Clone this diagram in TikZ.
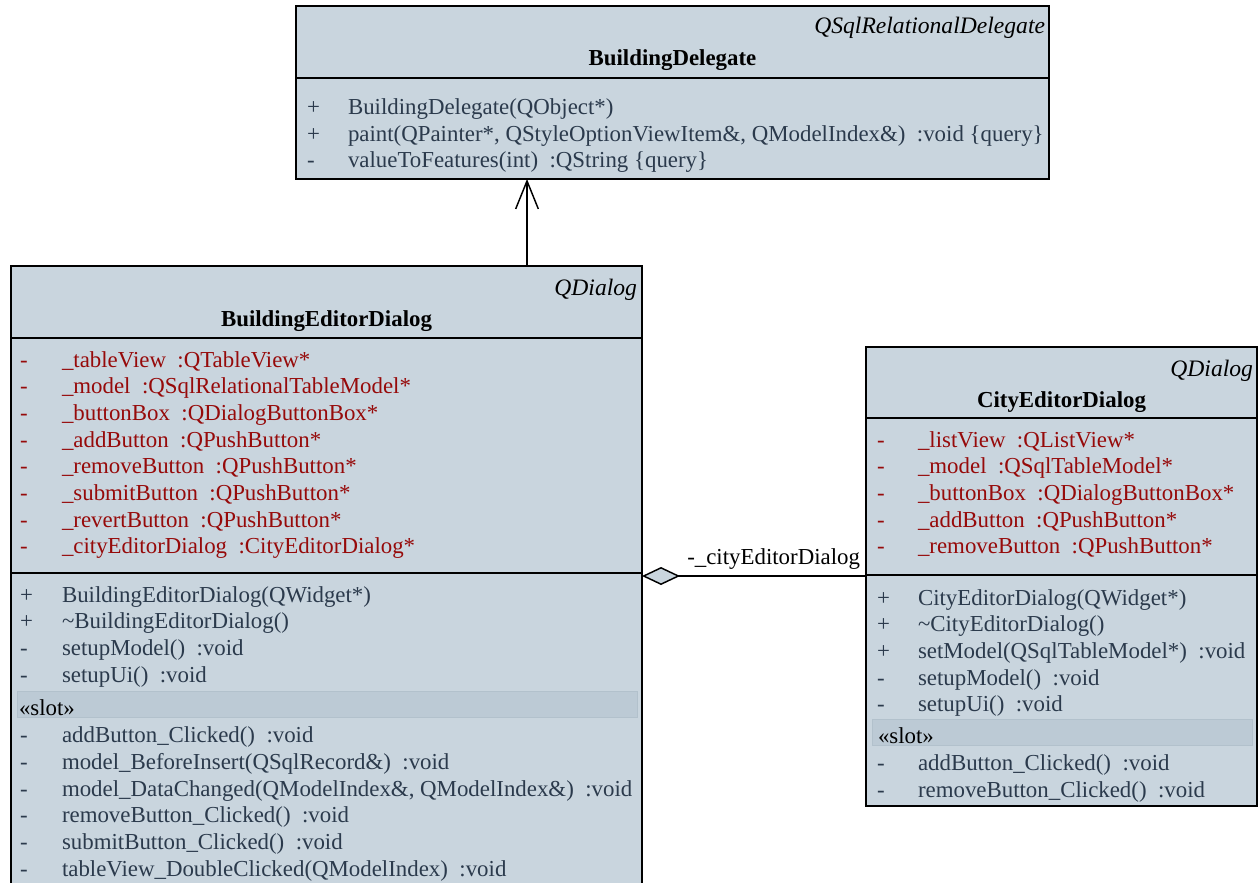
\documentclass[tikz,border=0pt]{standalone}
\usepackage{fontspec}
\setmainfont{Liberation Serif}
\usetikzlibrary{arrows.meta}
\definecolor{boxfill}{HTML}{C9D5DE}
\definecolor{slotfill}{HTML}{BCCAD5}
\definecolor{slotline}{HTML}{B2C1CC}
\definecolor{opc}{HTML}{2B3A4C}
\definecolor{attc}{HTML}{960A0A}
\newcommand\urow[7]{%
  \node[vis,#7] (#1v) at (#2,#4+1) {#5};
  \node[txt,#7] (#1) at (#3,#4+1) {#6};}
\begin{document}
\begin{tikzpicture}[x=0.75pt,y=-0.75pt,
  every node/.style={inner sep=0pt,outer sep=0pt,font=\fontsize{17.15}{20}\selectfont},
  classbox/.style={draw=black,fill=boxfill,line width=1pt,anchor=north west,inner sep=0pt,outer sep=0pt},
  vis/.style={anchor=base west},
  txt/.style={anchor=base west},
  op/.style={text=opc},
  att/.style={text=attc},
  stereo/.style={anchor=base east,font=\fontsize{17.7}{20}\selectfont\itshape},
  cname/.style={anchor=base,font=\fontsize{17.15}{20}\selectfont\bfseries},
  slotbar/.style={fill=slotfill,draw=slotline,line width=0.6pt},
  divider/.style={line width=1pt},
  inh/.style={line width=1.1pt,-{Straight Barb[length=21pt,width=17pt,line width=1.1pt]}},
  agg/.style={line width=1.1pt,{Diamond[length=28.5pt,width=13.5pt,fill=boxfill,line width=1.1pt]}-}
]
\useasboundingbox (0,0) rectangle (1259,882);
\clip (0,0) rectangle (1259,882);
\fill[white] (0,0) rectangle (1259,882);

% ---------- BuildingDelegate ----------
\node[classbox,minimum width=753*0.75pt,minimum height=173*0.75pt] (bd) at (296,6) {};
\draw[divider] (296,78) -- (1049,78);
\node[stereo] (bds) at (1045,33.5) {QSqlRelationalDelegate};
\node[cname] (bdn) at (672.5,65) {BuildingDelegate};
\urow{bdm1}{307}{348}{113}{+}{BuildingDelegate(QObject*)}{op}
\urow{bdm2}{307}{348}{140}{+}{paint(QPainter*, QStyleOptionViewItem\&, QModelIndex\&) \ :void \{query\}}{op}
\urow{bdm3}{307}{348}{166.5}{-}{valueToFeatures(int) \ :QString \{query\}}{op}

% ---------- BuildingEditorDialog ----------
\node[classbox,minimum width=631*0.75pt,minimum height=700*0.75pt] (bed) at (11,266) {};
\draw[divider] (11,338) -- (642,338);
\draw[divider] (11,573) -- (642,573);
\node[stereo] (beds) at (637,295.5) {QDialog};
\node[cname] (bedn) at (326.5,326) {BuildingEditorDialog};
\urow{beda1}{20}{62}{366}{-}{\_tableView \ :QTableView*}{att}
\urow{beda2}{20}{62}{392.7}{-}{\_model \ :QSqlRelationalTableModel*}{att}
\urow{beda3}{20}{62}{419.4}{-}{\_buttonBox \ :QDialogButtonBox*}{att}
\urow{beda4}{20}{62}{446.1}{-}{\_addButton \ :QPushButton*}{att}
\urow{beda5}{20}{62}{472.8}{-}{\_removeButton \ :QPushButton*}{att}
\urow{beda6}{20}{62}{499.5}{-}{\_submitButton \ :QPushButton*}{att}
\urow{beda7}{20}{62}{526.2}{-}{\_revertButton \ :QPushButton*}{att}
\urow{beda8}{20}{62}{552.9}{-}{\_cityEditorDialog \ :CityEditorDialog*}{att}
\urow{bedm1}{20}{62}{601}{+}{BuildingEditorDialog(QWidget*)}{op}
\urow{bedm2}{20}{62}{627.7}{+}{\textasciitilde BuildingEditorDialog()}{op}
\urow{bedm3}{20}{62}{654.4}{-}{setupModel() \ :void}{op}
\urow{bedm4}{20}{62}{681.1}{-}{setupUi() \ :void}{op}
\draw[slotbar] (17,691) rectangle (637,717);
\node[anchor=base west] (bedslot) at (19,715.5) {«slot»};
\urow{beds1}{20}{62}{741.8}{-}{addButton\_Clicked() \ :void}{op}
\urow{beds2}{20}{62}{768.5}{-}{model\_BeforeInsert(QSqlRecord\&) \ :void}{op}
\urow{beds3}{20}{62}{795.2}{-}{model\_DataChanged(QModelIndex\&, QModelIndex\&) \ :void}{op}
\urow{beds4}{20}{62}{821.9}{-}{removeButton\_Clicked() \ :void}{op}
\urow{beds5}{20}{62}{848.6}{-}{submitButton\_Clicked() \ :void}{op}
\urow{beds6}{20}{62}{875.3}{-}{tableView\_DoubleClicked(QModelIndex) \ :void}{op}

% ---------- CityEditorDialog ----------
\node[classbox,minimum width=391*0.75pt,minimum height=459*0.75pt] (ced) at (866,347) {};
\draw[divider] (866,418) -- (1257,418);
\draw[divider] (866,575) -- (1257,575);
\node[stereo] (ceds) at (1253,376.5) {QDialog};
\node[cname] (cedn) at (1061.5,407) {CityEditorDialog};
\urow{ceda1}{877}{918}{446}{-}{\_listView \ :QListView*}{att}
\urow{ceda2}{877}{918}{472.7}{-}{\_model \ :QSqlTableModel*}{att}
\urow{ceda3}{877}{918}{499.4}{-}{\_buttonBox \ :QDialogButtonBox*}{att}
\urow{ceda4}{877}{918}{526.1}{-}{\_addButton \ :QPushButton*}{att}
\urow{ceda5}{877}{918}{552.8}{-}{\_removeButton \ :QPushButton*}{att}
\urow{cedm1}{877}{918}{604}{+}{CityEditorDialog(QWidget*)}{op}
\urow{cedm2}{877}{918}{630.7}{+}{\textasciitilde CityEditorDialog()}{op}
\urow{cedm3}{877}{918}{657.4}{+}{setModel(QSqlTableModel*) \ :void}{op}
\urow{cedm4}{877}{918}{684.1}{-}{setupModel() \ :void}{op}
\urow{cedm5}{877}{918}{710.8}{-}{setupUi() \ :void}{op}
\draw[slotbar] (872,719) rectangle (1252,745);
\node[anchor=base west] (cedslot) at (878,743.5) {«slot»};
\urow{ceds1}{877}{918}{769.5}{-}{addButton\_Clicked() \ :void}{op}
\urow{ceds2}{877}{918}{796.2}{-}{removeButton\_Clicked() \ :void}{op}

% ---------- connectors ----------
\coordinate (ax) at (527,0);
\coordinate (ay) at (0,576);
\draw[inh] (bed.north -| ax) -- (bd.south -| ax);
\draw[agg] (bed.east |- ay) -- (ced.west |- ay);
\node[anchor=base east] (agglabel) at (860,564) {-\_cityEditorDialog};
\end{tikzpicture}
\end{document}
